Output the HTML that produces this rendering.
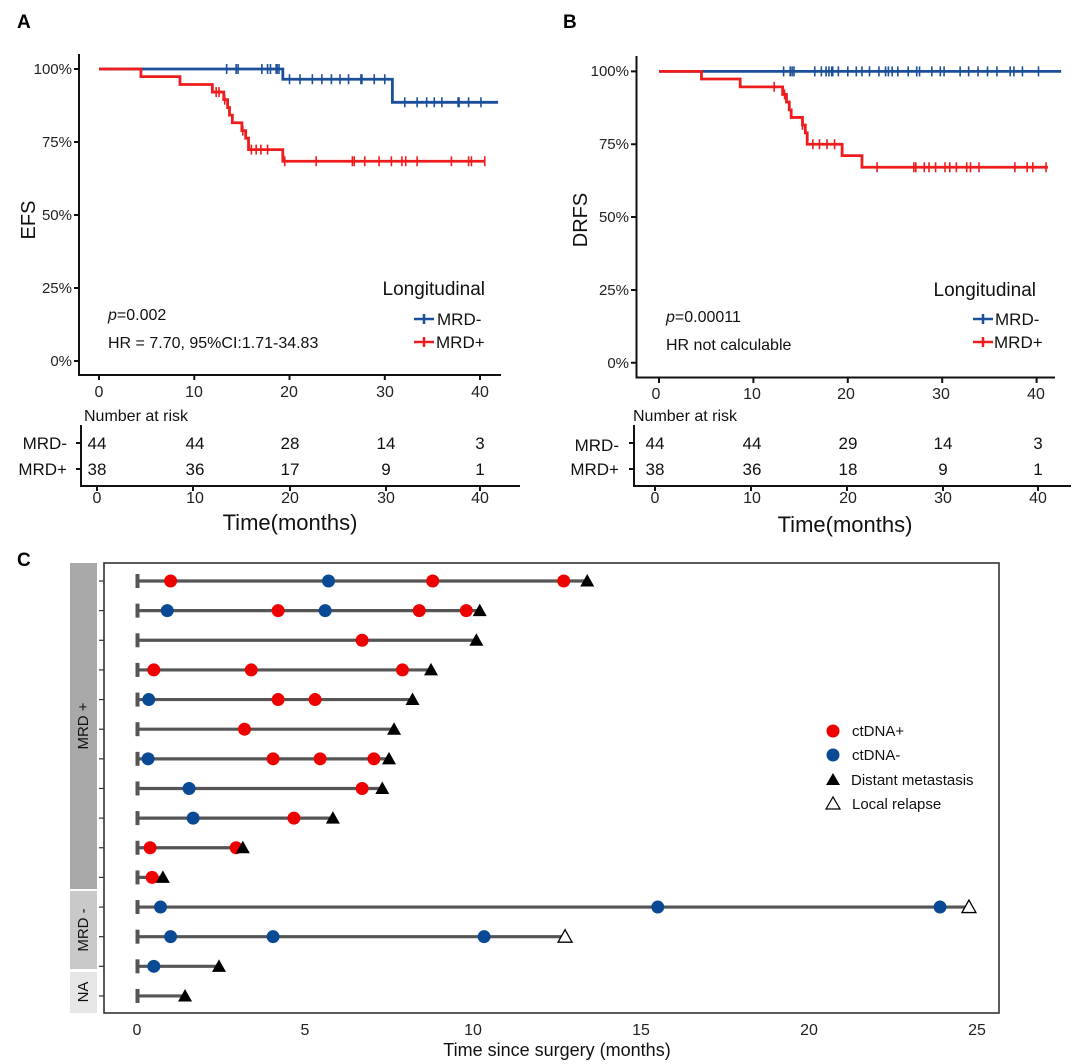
<!DOCTYPE html>
<html><head><meta charset="utf-8"><style>
html,body{margin:0;padding:0;background:#fff;}
svg{display:block;font-family:"Liberation Sans",Arial,sans-serif;}
</style></head><body>
<svg id="s" width="1080" height="1064" viewBox="0 0 1080 1064" xmlns="http://www.w3.org/2000/svg">
<rect width="1080" height="1064" fill="#fff"/>
<text x="17" y="28" font-size="19" font-weight="bold">A</text>
<text x="563" y="28" font-size="19" font-weight="bold">B</text>
<text x="17" y="566" font-size="19" font-weight="bold">C</text>

<!-- ===== Panel A ===== -->
<g stroke="#111" stroke-width="2" fill="none">
<path d="M79,54 V375 H501"/>
<path d="M74,69 H79 M74,142 H79 M74,215 H79 M74,288 H79 M74,361 H79"/>
<path d="M99,375 V380 M194.3,375 V380 M289.5,375 V380 M384.8,375 V380 M480,375 V380"/>
<path d="M81,425 V486 H520"/>
<path d="M76,443 H81 M76,469 H81"/>
<path d="M97,486 V491 M193,486 V491 M290,486 V491 M386,486 V491 M480,486 V491"/>
</g>
<g font-size="15" fill="#222" text-anchor="end">
<text x="72" y="74">100%</text><text x="72" y="147">75%</text><text x="72" y="220">50%</text><text x="72" y="293">25%</text><text x="72" y="366">0%</text>
</g>
<g font-size="16" fill="#222" text-anchor="middle">
<text x="99" y="397">0</text><text x="194" y="397">10</text><text x="289" y="397">20</text><text x="385" y="397">30</text><text x="480" y="397">40</text>
</g>
<text transform="translate(35,220) rotate(-90)" font-size="20" text-anchor="middle" fill="#111">EFS</text>
<text x="108" y="320" font-size="16" fill="#111"><tspan font-style="italic">p</tspan>=0.002</text>
<text x="108" y="348" font-size="16" fill="#111">HR = 7.70, 95%CI:1.71-34.83</text>
<text x="485" y="295" font-size="19" fill="#111" text-anchor="end">Longitudinal</text>
<g stroke-width="2.5"><path d="M414,319 H434 M424,314 V324" stroke="#1b4f9b"/><path d="M414,342 H434 M424,337 V347" stroke="#ee1c1c"/></g>
<text x="437" y="325" font-size="17" fill="#111">MRD-</text>
<text x="436" y="348" font-size="17" fill="#111">MRD+</text>
<text x="84" y="421" font-size="16" fill="#111">Number at risk</text>
<text x="67" y="449" font-size="17" fill="#111" text-anchor="end">MRD-</text>
<text x="67" y="475" font-size="17" fill="#111" text-anchor="end">MRD+</text>
<g font-size="17" fill="#111" text-anchor="middle">
<text x="97" y="449">44</text><text x="195" y="449">44</text><text x="290" y="449">28</text><text x="386" y="449">14</text><text x="480" y="449">3</text>
<text x="97" y="475">38</text><text x="195" y="475">36</text><text x="290" y="475">17</text><text x="386" y="475">9</text><text x="480" y="475">1</text>
</g>
<g font-size="16" fill="#222" text-anchor="middle">
<text x="97" y="503">0</text><text x="195" y="503">10</text><text x="290" y="503">20</text><text x="386" y="503">30</text><text x="480" y="503">40</text>
</g>
<text x="290" y="530" font-size="22" text-anchor="middle" fill="#111">Time(months)</text>
<g id="ga"></g>

<!-- ===== Panel B ===== -->
<g stroke="#111" stroke-width="2" fill="none">
<path d="M636.5,56 V377.5 H1055"/>
<path d="M631,71.4 H636.5 M631,144.3 H636.5 M631,217 H636.5 M631,290 H636.5 M631,362.8 H636.5"/>
<path d="M659,377.5 V383 M753.4,377.5 V383 M847.8,377.5 V383 M942.2,377.5 V383 M1036.6,377.5 V383"/>
<path d="M634,425 V486 H1071"/>
<path d="M629,443 H634 M629,469 H634"/>
<path d="M655,486 V491 M751,486 V491 M847,486 V491 M943,486 V491 M1038,486 V491"/>
</g>
<g font-size="15" fill="#222" text-anchor="end">
<text x="629" y="76">100%</text><text x="629" y="149">75%</text><text x="629" y="222">50%</text><text x="629" y="295">25%</text><text x="629" y="368">0%</text>
</g>
<g font-size="16" fill="#222" text-anchor="middle">
<text x="656" y="399">0</text><text x="752" y="399">10</text><text x="846" y="399">20</text><text x="941" y="399">30</text><text x="1036" y="399">40</text>
</g>
<text transform="translate(587,220) rotate(-90)" font-size="20" text-anchor="middle" fill="#111">DRFS</text>
<text x="666" y="322" font-size="16" fill="#111"><tspan font-style="italic">p</tspan>=0.00011</text>
<text x="666" y="350" font-size="16" fill="#111">HR not calculable</text>
<text x="1036" y="296" font-size="19" fill="#111" text-anchor="end">Longitudinal</text>
<g stroke-width="2.5"><path d="M973,319 H993 M983,314 V324" stroke="#1b4f9b"/><path d="M973,342 H993 M983,337 V347" stroke="#ee1c1c"/></g>
<text x="995" y="325" font-size="17" fill="#111">MRD-</text>
<text x="994" y="348" font-size="17" fill="#111">MRD+</text>
<text x="633" y="421" font-size="16" fill="#111">Number at risk</text>
<text x="619" y="451" font-size="17" fill="#111" text-anchor="end">MRD-</text>
<text x="619" y="475" font-size="17" fill="#111" text-anchor="end">MRD+</text>
<g font-size="17" fill="#111" text-anchor="middle">
<text x="655" y="449">44</text><text x="752" y="449">44</text><text x="848" y="449">29</text><text x="943" y="449">14</text><text x="1038" y="449">3</text>
<text x="655" y="475">38</text><text x="752" y="475">36</text><text x="848" y="475">18</text><text x="943" y="475">9</text><text x="1038" y="475">1</text>
</g>
<g font-size="16" fill="#222" text-anchor="middle">
<text x="655" y="503">0</text><text x="752" y="503">10</text><text x="848" y="503">20</text><text x="943" y="503">30</text><text x="1038" y="503">40</text>
</g>
<text x="845" y="532" font-size="22" text-anchor="middle" fill="#111">Time(months)</text>
<g id="gb"></g>

<!-- ===== Panel C ===== -->
<rect x="70" y="563" width="27" height="326" fill="#a9a9a9"/>
<rect x="70" y="891" width="27" height="78" fill="#c9c9c9"/>
<rect x="70" y="972" width="27" height="41" fill="#e6e6e6"/>
<text transform="translate(88,726) rotate(-90)" font-size="15" text-anchor="middle" fill="#111">MRD +</text>
<text transform="translate(88,930) rotate(-90)" font-size="15" text-anchor="middle" fill="#111">MRD -</text>
<text transform="translate(88,992) rotate(-90)" font-size="15" text-anchor="middle" fill="#111">NA</text>
<rect x="104" y="563" width="895" height="450" fill="none" stroke="#333" stroke-width="1.6"/>
<g id="gc"></g>
<g font-size="16" fill="#222" text-anchor="middle">
<text x="137" y="1035">0</text><text x="305" y="1035">5</text><text x="473" y="1035">10</text><text x="641" y="1035">15</text><text x="809" y="1035">20</text><text x="977" y="1035">25</text>
</g>
<text x="557" y="1056" font-size="18" text-anchor="middle" fill="#111">Time since surgery (months)</text>
<circle cx="833" cy="731" r="6.5" fill="#ee0000"/>
<circle cx="833" cy="755" r="6.5" fill="#0a4a94"/>
<path d="M826,785 L833,773 L840,785 Z" fill="#000"/>
<path d="M826,809 L833,797 L840,809 Z" fill="#fff" stroke="#000" stroke-width="1.2"/>
<g font-size="15" fill="#111">
<text x="852" y="736">ctDNA+</text><text x="852" y="760">ctDNA-</text><text x="851" y="785">Distant metastasis</text><text x="852" y="809">Local relapse</text>
</g>
</svg>
<script>
var NS="http://www.w3.org/2000/svg";
function el(g,t,a){var e=document.createElementNS(NS,t);for(var k in a)e.setAttribute(k,a[k]);g.appendChild(e);return e;}
function km(g,X,Y,steps,end,color,cens){
  var d="M"+X(0)+","+Y(steps[0][1]);
  for(var i=1;i<steps.length;i++){d+=" H"+X(steps[i][0])+" V"+Y(steps[i][1]);}
  d+=" H"+X(end);
  el(g,"path",{d:d,stroke:color,"stroke-width":2.8,fill:"none"});
  cens.forEach(function(t){
    var p=steps[0][1];for(var i=0;i<steps.length;i++){if(steps[i][0]<=t)p=steps[i][1];}
    el(g,"path",{d:"M"+X(t)+","+(Y(p)-5)+" V"+(Y(p)+5),stroke:color,"stroke-width":1.6});
  });
}
var ga=document.getElementById("ga");
var XA=function(t){return 99+9.525*t},YA=function(p){return 361-2.92*p};
km(ga,XA,YA,[[0,100],[19.3,96.5],[30.8,88.6]],41.9,"#1b4f9b",
 [13.4,14.4,14.6,17.1,17.7,18.0,18.6,18.7,18.9,20.0,21.1,22.4,23.4,24.4,25.3,26.2,27.5,27.6,28.9,30.0,32.1,33.4,34.4,35.2,36.0,37.7,37.8,38.8,40.1]);
km(ga,XA,YA,[[0,100],[4.4,97.4],[8.5,94.7],[11.9,92.1],[13.1,89.5],[13.5,86.8],[13.7,84.2],[14.0,81.6],[15.0,78.9],[15.4,76.3],[15.7,72.4],[19.3,68.4]],40.5,"#ee1c1c",
 [12.3,12.6,13.2,15.1,16.0,16.5,17.0,17.7,19.5,22.8,26.6,26.8,27.9,29.4,30.7,31.8,32.2,33.4,37.0,38.8,39.1,40.5]);
var gb=document.getElementById("gb");
var XB=function(t){return 659+9.44*t},YB=function(p){return 362.8-2.914*p};
var bc=[13.2,13.9,14.1,14.3,16.5,17.2,17.7,18.0,18.3,18.4,19.0,20.0,20.9,21.5,22.3,23.3,24.0,24.3,24.7,25.3,26.4,27.3,27.6,28.9,29.8,30.2,31.9,32.8,33.8,34.8,35.8,37.2,37.6,38.5,40.2];
km(gb,XB,YB,[[0,100]],42.6,"#1b4f9b",bc);
km(gb,XB,YB,[[0,100],[4.5,97.4],[8.6,94.7],[13.1,92.1],[13.5,89.5],[13.8,86.8],[14.0,84.2],[15.2,81.6],[15.5,78.9],[15.7,75.0],[19.4,71.1],[21.5,67.1]],41.2,"#ee1c1c",
 [12.2,13.3,15.2,16.3,17.0,17.8,18.6,23.1,27.0,27.2,28.1,28.6,29.3,30.3,30.8,31.5,32.6,33.0,33.9,37.7,39.0,39.6,41.0]);
var gc=document.getElementById("gc");
var XC=function(t){return 137+33.6*t};
var R="r",B="b";
var rows=[
 [[[1.0,R],[5.7,B],[8.8,R],[12.7,R]],13.4,1],
 [[[0.9,B],[4.2,R],[5.6,B],[8.4,R],[9.8,R]],10.2,1],
 [[[6.7,R]],10.1,1],
 [[[0.5,R],[3.4,R],[7.9,R]],8.75,1],
 [[[0.35,B],[4.2,R],[5.3,R]],8.2,1],
 [[[3.2,R]],7.65,1],
 [[[0.33,B],[4.05,R],[5.45,R],[7.05,R]],7.5,1],
 [[[1.55,B],[6.7,R]],7.3,1],
 [[[1.67,B],[4.67,R]],5.83,1],
 [[[0.39,R],[2.95,R]],3.15,1],
 [[[0.45,R]],0.77,1],
 [[[0.7,B],[15.5,B],[23.9,B]],24.76,0],
 [[[1.0,B],[4.05,B],[10.33,B]],12.74,0],
 [[[0.5,B]],2.44,1],
 [[],1.43,1]
];
rows.forEach(function(r,i){
  var y=581+29.64*i;
  el(gc,"path",{d:"M99,"+y+" H104",stroke:"#333","stroke-width":1.2});
  el(gc,"path",{d:"M"+XC(0)+","+y+" H"+XC(r[1]),stroke:"#555","stroke-width":3.2});
  el(gc,"rect",{x:XC(0)-1.5,y:y-7,width:4,height:14,fill:"#555"});
  r[0].forEach(function(p){el(gc,"circle",{cx:XC(p[0]),cy:y,r:6.5,fill:p[1]==R?"#ee0000":"#0a4a94"});});
  var x=XC(r[1]);
  if(r[2])el(gc,"path",{d:"M"+(x-7)+","+(y+5.5)+" L"+x+","+(y-7)+" L"+(x+7)+","+(y+5.5)+" Z",fill:"#000"});
  else el(gc,"path",{d:"M"+(x-7)+","+(y+5.5)+" L"+x+","+(y-7)+" L"+(x+7)+","+(y+5.5)+" Z",fill:"#fff",stroke:"#000","stroke-width":1.3});
});
</script>
</body></html>
